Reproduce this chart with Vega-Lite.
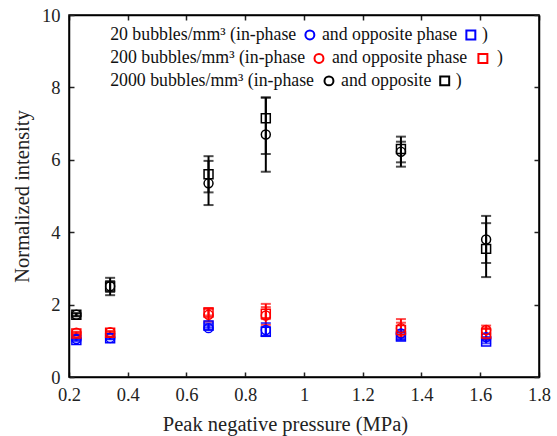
{
  "$schema": "https://vega.github.io/schema/vega-lite/v6.json",
  "width": 470,
  "height": 362,
  "autosize": "none",
  "padding": {"left": 69, "top": 15, "right": 18, "bottom": 59},
  "config": {
    "font": "Liberation Serif",
    "view": {"stroke": "#000", "strokeWidth": 1.5},
    "axis": {"grid": false, "domainColor": "#000", "domainWidth": 1.5, "tickColor": "#222", "tickWidth": 1.5, "tickSize": -5, "labelFont": "Liberation Serif", "titleFont": "Liberation Serif", "labelColor": "#222", "titleColor": "#222", "labelFontSize": 18.5, "titleFontSize": 20.5, "titleFontWeight": "normal"}
  },
  "datasets": {
    "pts": [
      {"density": "20", "phase": "in", "x": 0.225, "y": 1.05, "lo": 1.02, "hi": 1.08},
      {"density": "20", "phase": "opp", "x": 0.225, "y": 1.02, "lo": 0.99, "hi": 1.05},
      {"density": "20", "phase": "in", "x": 0.34, "y": 1.08, "lo": 1.05, "hi": 1.11},
      {"density": "20", "phase": "opp", "x": 0.34, "y": 1.07, "lo": 1.04, "hi": 1.1},
      {"density": "20", "phase": "in", "x": 0.675, "y": 1.35, "lo": 1.3, "hi": 1.42},
      {"density": "20", "phase": "opp", "x": 0.675, "y": 1.42, "lo": 1.36, "hi": 1.48},
      {"density": "20", "phase": "in", "x": 0.87, "y": 1.3, "lo": 1.13, "hi": 1.49},
      {"density": "20", "phase": "opp", "x": 0.87, "y": 1.25, "lo": 1.14, "hi": 1.38},
      {"density": "20", "phase": "in", "x": 1.33, "y": 1.2, "lo": 1.05, "hi": 1.3},
      {"density": "20", "phase": "opp", "x": 1.33, "y": 1.12, "lo": 1.02, "hi": 1.22},
      {"density": "20", "phase": "in", "x": 1.62, "y": 1.1, "lo": 1.0, "hi": 1.2},
      {"density": "20", "phase": "opp", "x": 1.62, "y": 0.98, "lo": 0.93, "hi": 1.05},
      {"density": "200", "phase": "in", "x": 0.225, "y": 1.22, "lo": 1.19, "hi": 1.25},
      {"density": "200", "phase": "opp", "x": 0.225, "y": 1.2, "lo": 1.17, "hi": 1.23},
      {"density": "200", "phase": "in", "x": 0.34, "y": 1.24, "lo": 1.21, "hi": 1.27},
      {"density": "200", "phase": "opp", "x": 0.34, "y": 1.22, "lo": 1.19, "hi": 1.25},
      {"density": "200", "phase": "in", "x": 0.675, "y": 1.72, "lo": 1.53, "hi": 1.9},
      {"density": "200", "phase": "opp", "x": 0.675, "y": 1.78, "lo": 1.7, "hi": 1.88},
      {"density": "200", "phase": "in", "x": 0.87, "y": 1.7, "lo": 1.44, "hi": 2.02},
      {"density": "200", "phase": "opp", "x": 0.87, "y": 1.75, "lo": 1.6, "hi": 1.93},
      {"density": "200", "phase": "in", "x": 1.33, "y": 1.35, "lo": 1.1, "hi": 1.6},
      {"density": "200", "phase": "opp", "x": 1.33, "y": 1.3, "lo": 1.15, "hi": 1.5},
      {"density": "200", "phase": "in", "x": 1.62, "y": 1.3, "lo": 1.05, "hi": 1.42},
      {"density": "200", "phase": "opp", "x": 1.62, "y": 1.2, "lo": 1.05, "hi": 1.35},
      {"density": "2000", "phase": "in", "x": 0.225, "y": 1.72, "lo": 1.68, "hi": 1.76},
      {"density": "2000", "phase": "opp", "x": 0.225, "y": 1.72, "lo": 1.68, "hi": 1.76},
      {"density": "2000", "phase": "in", "x": 0.34, "y": 2.51, "lo": 2.26, "hi": 2.74},
      {"density": "2000", "phase": "opp", "x": 0.34, "y": 2.5, "lo": 2.35, "hi": 2.65},
      {"density": "2000", "phase": "in", "x": 0.675, "y": 5.35, "lo": 4.75, "hi": 5.97},
      {"density": "2000", "phase": "opp", "x": 0.675, "y": 5.6, "lo": 5.1, "hi": 6.1},
      {"density": "2000", "phase": "in", "x": 0.87, "y": 6.7, "lo": 5.67, "hi": 7.72},
      {"density": "2000", "phase": "opp", "x": 0.87, "y": 7.15, "lo": 6.16, "hi": 7.72},
      {"density": "2000", "phase": "in", "x": 1.33, "y": 6.22, "lo": 5.81, "hi": 6.5},
      {"density": "2000", "phase": "opp", "x": 1.33, "y": 6.3, "lo": 5.93, "hi": 6.64},
      {"density": "2000", "phase": "in", "x": 1.62, "y": 3.8, "lo": 3.15, "hi": 4.45},
      {"density": "2000", "phase": "opp", "x": 1.62, "y": 3.54, "lo": 2.76, "hi": 4.25}
    ],
    "legtext": [
      {"t": "20 bubbles/mm³ (in-phase", "x": 0.34, "y": 9.45},
      {"t": "and opposite phase", "x": 1.061, "y": 9.45},
      {"t": ")", "x": 1.606, "y": 9.45},
      {"t": "200 bubbles/mm³ (in-phase", "x": 0.34, "y": 8.8},
      {"t": "and opposite phase", "x": 1.095, "y": 8.8},
      {"t": ")", "x": 1.657, "y": 8.8},
      {"t": "2000 bubbles/mm³ (in-phase", "x": 0.34, "y": 8.18},
      {"t": "and opposite", "x": 1.126, "y": 8.18},
      {"t": ")", "x": 1.517, "y": 8.18}
    ],
    "legsym": [
      {"density": "20", "phase": "in", "x": 1.02, "y": 9.45},
      {"density": "20", "phase": "opp", "x": 1.568, "y": 9.45},
      {"density": "200", "phase": "in", "x": 1.051, "y": 8.8},
      {"density": "200", "phase": "opp", "x": 1.609, "y": 8.8},
      {"density": "2000", "phase": "in", "x": 1.085, "y": 8.18},
      {"density": "2000", "phase": "opp", "x": 1.479, "y": 8.18}
    ]
  },
  "resolve": {"axis": {"x": "independent", "y": "independent"}},
  "layer": [
    {
      "data": {"name": "pts"},
      "mark": {"type": "rule", "strokeWidth": 2},
      "encoding": {
        "x": {"field": "x", "type": "quantitative", "scale": {"domain": [0.2, 1.8]}, "axis": {"title": "Peak negative pressure (MPa)", "values": [0.2, 0.4, 0.6, 0.8, 1, 1.2, 1.4, 1.6, 1.8], "format": "~g", "labelPadding": 13, "titlePadding": 11, "titleX": 216, "titleAlign": "center", "labelFlush": false}},
        "y": {"field": "lo", "type": "quantitative", "scale": {"domain": [0, 10]}, "axis": {"title": "Normalized intensity", "values": [0, 2, 4, 6, 8, 10], "labelPadding": 14, "titlePadding": 9}},
        "y2": {"field": "hi"},
        "color": {"field": "density", "type": "nominal", "scale": {"domain": ["20", "200", "2000"], "range": ["#0000ff", "#ff0000", "#000000"]}, "legend": null}
      }
    },
    {
      "data": {"name": "pts"},
      "mark": {"type": "tick", "orient": "horizontal", "size": 10, "thickness": 2},
      "encoding": {
        "x": {"field": "x", "type": "quantitative", "axis": {"orient": "top", "title": null, "labels": false, "values": [0.2, 0.4, 0.6, 0.8, 1, 1.2, 1.4, 1.6, 1.8]}},
        "y": {"field": "lo", "type": "quantitative", "axis": {"orient": "right", "title": null, "labels": false, "values": [0, 2, 4, 6, 8, 10]}},
        "color": {"field": "density", "type": "nominal", "legend": null}
      }
    },
    {
      "data": {"name": "pts"},
      "mark": {"type": "tick", "orient": "horizontal", "size": 10, "thickness": 2},
      "encoding": {
        "x": {"field": "x", "type": "quantitative", "axis": null},
        "y": {"field": "hi", "type": "quantitative", "axis": null},
        "color": {"field": "density", "type": "nominal", "legend": null}
      }
    },
    {
      "data": {"name": "pts"},
      "mark": {"type": "point", "filled": false, "strokeWidth": 1.5, "size": 80, "opacity": 1},
      "encoding": {
        "x": {"field": "x", "type": "quantitative", "axis": null},
        "y": {"field": "y", "type": "quantitative", "axis": null},
        "color": {"field": "density", "type": "nominal", "legend": null},
        "shape": {"field": "phase", "type": "nominal", "scale": {"domain": ["in", "opp"], "range": ["circle", "square"]}, "legend": null}
      }
    },
    {
      "data": {"name": "legtext"},
      "mark": {"type": "text", "align": "left", "baseline": "middle", "fontSize": 17.8, "font": "Liberation Serif", "color": "#111"},
      "encoding": {
        "x": {"field": "x", "type": "quantitative", "axis": null},
        "y": {"field": "y", "type": "quantitative", "axis": null},
        "text": {"field": "t"}
      }
    },
    {
      "data": {"name": "legsym"},
      "mark": {"type": "point", "filled": false, "strokeWidth": 2, "size": 80, "opacity": 1},
      "encoding": {
        "x": {"field": "x", "type": "quantitative", "axis": null},
        "y": {"field": "y", "type": "quantitative", "axis": null},
        "color": {"field": "density", "type": "nominal", "legend": null},
        "shape": {"field": "phase", "type": "nominal", "legend": null}
      }
    }
  ]
}
